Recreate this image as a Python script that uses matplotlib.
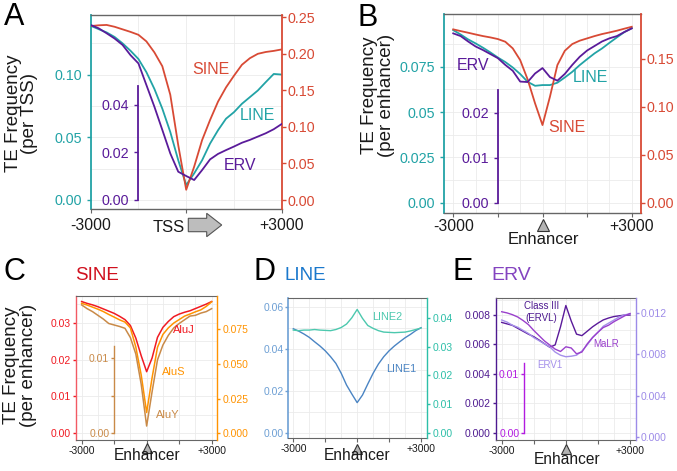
import numpy as np
import matplotlib.pyplot as plt
from matplotlib.patches import FancyArrow

plt.rcParams['font.family'] = ['Liberation Sans', 'DejaVu Sans']

# distance from the TSS / enhancer centre (bp)
pos = [-3000, -2750, -2500, -2250, -2000, -1750, -1500, -1250, -1000, -750, -500, -250,
       0, 250, 500, 750, 1000, 1250, 1500, 1750, 2000, 2250, 2500, 2750, 3000]

# A  (per TSS)
tss_sine = [0.238, 0.239, 0.2395, 0.237, 0.2335, 0.230, 0.226, 0.217, 0.202, 0.183, 0.144, 0.075,
            0.014, 0.0456, 0.082, 0.1095, 0.1346, 0.154, 0.170, 0.185, 0.194, 0.200, 0.2025, 0.204, 0.206]
tss_line = [0.1389, 0.1362, 0.1336, 0.130, 0.1249, 0.119, 0.1124, 0.1019, 0.0886, 0.0728, 0.0542, 0.0317,
            0.0119, 0.0212, 0.0317, 0.045, 0.0556, 0.0648, 0.070, 0.0767, 0.082, 0.0873, 0.094, 0.1005, 0.100]
tss_erv = [0.0737, 0.0723, 0.0702, 0.068, 0.0653, 0.061, 0.0575, 0.0484, 0.0393, 0.0295, 0.0196, 0.0119,
           0.0101, 0.0084, 0.0126, 0.0171, 0.0194, 0.021, 0.0225, 0.0241, 0.0253, 0.0267, 0.0281, 0.0298, 0.032]

# B  (per enhancer)
enh_sine = [0.1806, 0.1788, 0.1771, 0.1753, 0.1736, 0.1722, 0.1705, 0.1677, 0.1608, 0.1486, 0.1285, 0.1035,
            0.0809, 0.1104, 0.1434, 0.1583, 0.1653, 0.1688, 0.1712, 0.1736, 0.1757, 0.1774, 0.1792, 0.1813, 0.1833]
enh_line = [0.0952, 0.0928, 0.0901, 0.0879, 0.0855, 0.0829, 0.0801, 0.0776, 0.0746, 0.071, 0.0667, 0.0645,
            0.0649, 0.0649, 0.0662, 0.0691, 0.0722, 0.0759, 0.0792, 0.0824, 0.0851, 0.0882, 0.0912, 0.0941, 0.0963]
enh_erv = [0.0376, 0.037, 0.0358, 0.0347, 0.0339, 0.033, 0.0321, 0.0306, 0.0293, 0.0269, 0.0268, 0.0287,
           0.0299, 0.0279, 0.0271, 0.0286, 0.0306, 0.0324, 0.0338, 0.0348, 0.0358, 0.0365, 0.037, 0.0379, 0.0387]

# C  SINE subfamilies
aluj = [0.0357, 0.0352, 0.0348, 0.0343, 0.0337, 0.0331, 0.0325, 0.0317, 0.0308, 0.0292, 0.0258, 0.0210,
        0.0167, 0.0204, 0.0260, 0.0287, 0.0303, 0.0316, 0.0323, 0.0328, 0.0332, 0.0338, 0.0344, 0.0350, 0.0357]
alus = [0.0937, 0.0925, 0.091, 0.0895, 0.0878, 0.0857, 0.0838, 0.0818, 0.0802, 0.0760, 0.0622, 0.0420,
        0.0150, 0.040, 0.0620, 0.0713, 0.0760, 0.0795, 0.0820, 0.0845, 0.0860, 0.0876, 0.0890, 0.0915, 0.0948]
aluy = [0.0172, 0.0167, 0.0163, 0.0158, 0.0153, 0.0147, 0.0145, 0.0143, 0.01405, 0.0128, 0.0106, 0.0065,
        0.0009, 0.0055, 0.0098, 0.0118, 0.0131, 0.0141, 0.0147, 0.0152, 0.0157, 0.0158, 0.0161, 0.0163, 0.0167]

# D  LINE subfamilies
line1 = [0.0495, 0.0484, 0.047, 0.0454, 0.0433, 0.0413, 0.039, 0.0362, 0.033, 0.0283, 0.0227, 0.0184,
         0.0143, 0.0179, 0.0232, 0.0283, 0.0327, 0.0362, 0.039, 0.0413, 0.0433, 0.0452, 0.0468, 0.0486, 0.05]
line2 = [0.0358, 0.0356, 0.0358, 0.0358, 0.036, 0.0358, 0.0357, 0.0356, 0.036, 0.0367, 0.0379, 0.0401,
         0.043, 0.0399, 0.0374, 0.0364, 0.0356, 0.0351, 0.035, 0.0349, 0.035, 0.0351, 0.0355, 0.036, 0.0365]

# E  ERV subfamilies
class3 = [0.0075, 0.0074, 0.0073, 0.0071, 0.0069, 0.0067, 0.00653, 0.0063, 0.00605, 0.00581, 0.00597, 0.0072,
          0.00865, 0.0076, 0.0067, 0.0066, 0.0069, 0.0072, 0.00745, 0.00767, 0.0078, 0.0079, 0.00795, 0.008, 0.008]
malr = [0.0207, 0.0205, 0.0202, 0.0198, 0.0192, 0.0185, 0.0175, 0.0166, 0.0157, 0.0150, 0.0143, 0.0139,
        0.0147, 0.0145, 0.0135, 0.0138, 0.0152, 0.0163, 0.0172, 0.0180, 0.0184, 0.0190, 0.0195, 0.0200, 0.0204]
erv1 = [0.0113, 0.0111, 0.0108, 0.0106, 0.0103, 0.0100, 0.0096, 0.0093, 0.0090, 0.0087, 0.0082, 0.0079,
        0.00775, 0.0078, 0.0079, 0.0083, 0.0089, 0.0096, 0.0101, 0.0107, 0.0110, 0.0113, 0.0116, 0.0118, 0.0119]

W, H = 677, 471
fig = plt.figure(figsize=(W / 100, H / 100), dpi=100)

def fx(px):
    return px / W

def fy(py):
    return 1 - py / H

FRAME = '#666666'
GRID = '#ebebeb'
TEAL, RED, PURP = '#22A3A6', '#D84A35', '#5A1B9A'


def host(l, t, r, b, xlim, major, minor, xlabels, xsize, xpad, fr_lw):
    ax = fig.add_axes([l / W, 1 - b / H, (r - l) / W, (b - t) / H])
    ax.set_xlim(*xlim)
    ax.set_xticks(major)
    ax.set_xticks(minor, minor=True)
    ax.set_xticklabels(xlabels)
    ax.tick_params(axis='x', which='major', colors=FRAME, labelcolor='#1a1a1a',
                   labelsize=xsize, length=3, width=0.8, pad=xpad)
    ax.tick_params(which='minor', length=0)
    ax.grid(True, which='both', color=GRID, lw=0.6)
    ax.set_axisbelow(True)
    for s in ('top', 'bottom'):
        ax.spines[s].set_color(FRAME)
        ax.spines[s].set_linewidth(fr_lw)
    ax.spines['right'].set_visible(False)
    return ax


def left_axis(ax, color, ylim, ticks, labels, minor, size, pad, lw, tl=3):
    ax.set_ylim(*ylim)
    ax.set_yticks(ticks)
    ax.set_yticklabels(labels)
    ax.set_yticks(minor, minor=True)
    ax.tick_params(axis='y', which='major', colors=color, labelsize=size, length=tl, width=1, pad=pad)
    ax.spines['left'].set_color(color)
    ax.spines['left'].set_linewidth(lw)


def right_axis(ax, color, ylim, ticks, labels, size, pad, lw, tl=3):
    a2 = ax.twinx()
    a2.set_ylim(*ylim)
    a2.set_yticks(ticks)
    a2.set_yticklabels(labels)
    a2.tick_params(axis='y', colors=color, labelsize=size, length=tl, width=1, pad=pad)
    for s in ('left', 'top', 'bottom'):
        a2.spines[s].set_visible(False)
    a2.spines['right'].set_color(color)
    a2.spines['right'].set_linewidth(lw)
    return a2


def inner_axis(ax, color, ylim, ticks, labels, xpos, top, size, pad, lw, tl=3):
    a3 = ax.twinx()
    a3.set_ylim(*ylim)
    a3.yaxis.tick_left()
    for s in ('right', 'top', 'bottom'):
        a3.spines[s].set_visible(False)
    sp = a3.spines['left']
    sp.set_visible(True)
    sp.set_position(('data', xpos))
    sp.set_bounds(0, top)
    sp.set_color(color)
    sp.set_linewidth(lw)
    a3.set_yticks(ticks)
    a3.set_yticklabels(labels)
    a3.tick_params(axis='y', colors=color, labelsize=size, length=tl, width=1, pad=pad)
    return a3


def tri(ax, y, ms):
    ax.plot([0], [y], marker='^', ms=ms, mfc='#b3b3b3', mec='#333333', mew=0.8, ls='none',
            transform=ax.get_xaxis_transform(), clip_on=False)


def label(px, py, s, color, size, **kw):
    fig.text(fx(px), fy(py), s, color=color, fontsize=size, ha='center', va='center', **kw)


xmaj = [-3000, -1500, 0, 1500, 3000]
xmin = [-2250, -750, 750, 2250]
xlab = ['-3000', '', '', '', '+3000']

# ---------------- A
ax = host(90.7, 15, 281.7, 209, (-3000, 3000), [-3000, 0, 3000], [-1500, 1500],
          ['-3000', '', '+3000'], 11.3, 3.5, 1.0)
left_axis(ax, TEAL, (-0.0072, 0.1475), [0, 0.05, 0.10], ['0.00', '0.05', '0.10'],
          [0.025, 0.075, 0.125], 10.3, 3.5, 1.3)
ax.plot(pos, tss_line, color=TEAL, lw=1.3)
a2 = right_axis(ax, RED, (-0.0123, 0.2531), [0, 0.05, 0.10, 0.15, 0.20, 0.25],
                ['0.00', '0.05', '0.10', '0.15', '0.20', '0.25'], 10.3, 1.2, 1.3)
a2.plot(pos, tss_sine, color=RED, lw=1.3)
a3 = inner_axis(ax, PURP, (-0.0038, 0.0779), [0, 0.02, 0.04], ['0.00', '0.02', '0.04'],
                -1500, 0.048, 10.3, 3.5, 1.3)
a3.plot(pos, tss_erv, color=PURP, lw=1.3)
label(211, 69, 'SINE', RED, 11.5)
label(257.5, 116, 'LINE', TEAL, 11.5)
label(240, 166, 'ERV', PURP, 11.5)
label(169, 227, 'TSS', '#1a1a1a', 12)
fig.add_artist(FancyArrow(fx(188.3), fy(225), fx(221.7) - fx(188.3), 0, width=13.4 / H,
                          head_width=23.4 / H, head_length=15 / W, length_includes_head=True,
                          transform=fig.transFigure, fc='#bdbdbd', ec='#555555', lw=0.8))
label(21.5, 113, 'TE Frequency\n(per TSS)', '#1a1a1a', 13.5, rotation=90, linespacing=0.95)
label(14, 17, 'A', 'black', 22)

# ---------------- B
ax = host(444.3, 14, 640.7, 212.7, (-3300, 3300), xmaj, xmin, xlab, 11.3, 1.5, 1.0)
left_axis(ax, TEAL, (-0.0055, 0.1041), [0, 0.025, 0.05, 0.075], ['0.00', '0.025', '0.05', '0.075'],
          [0.0125, 0.0375, 0.0625, 0.0875], 10.3, 3.5, 1.3)
ax.plot(pos, enh_line, color=TEAL, lw=1.3)
a2 = right_axis(ax, RED, (-0.0104, 0.1966), [0, 0.05, 0.10, 0.15], ['0.00', '0.05', '0.10', '0.15'],
                10.3, 1.2, 1.3)
a2.plot(pos, enh_sine, color=RED, lw=1.3)
a3 = inner_axis(ax, PURP, (-0.0022, 0.0419), [0, 0.01, 0.02], ['0.00', '0.01', '0.02'],
                -1500, 0.025, 10.3, 3.5, 1.3)
a3.plot(pos, enh_erv, color=PURP, lw=1.3)
tri(ax, -0.062, 9)
label(473, 66, 'ERV', PURP, 11.5)
label(590, 77.5, 'LINE', TEAL, 11.5)
label(567, 127, 'SINE', RED, 11.5)
label(543, 240, 'Enhancer', '#1a1a1a', 12)
label(378, 95, 'TE Frequency\n(per enhancer)', '#1a1a1a', 13.5, rotation=90, linespacing=0.95)
label(368, 17.5, 'B', 'black', 22)

# ---------------- C
RC, OR, BR = '#F01A22', '#FF9300', '#C98A48'
ax = host(76, 296, 217.3, 440, (-3260, 3260), xmaj, xmin, xlab, 7.5, 1.0, 0.8)
left_axis(ax, RC, (-0.0018, 0.0372), [0, 0.01, 0.02, 0.03], ['0.00', '0.01', '0.02', '0.03'],
          [0.005, 0.015, 0.025, 0.035], 7.5, 1.0, 1.0, tl=2.5)
ax.spines['left'].set_color('#F25A64')
ax.plot(pos, aluj, color=RC, lw=1.1)
a2 = right_axis(ax, OR, (-0.0048, 0.099), [0, 0.025, 0.05, 0.075], ['0.000', '0.025', '0.050', '0.075'],
                7.5, 1.0, 1.0, tl=2.5)
a2.plot(pos, alus, color=OR, lw=1.1)
a3 = inner_axis(ax, BR, (-0.00098, 0.0184), [0, 0.005, 0.01], ['0.00', '', '0.01'],
                -1500, 0.0117, 7.5, 1.0, 1.0, tl=2.5)
a3.plot(pos, aluy, color=BR, lw=1.1)
tri(ax, -0.056, 7)
label(184, 330, 'AluJ', RC, 8)
label(174, 371.7, 'AluS', OR, 8)
label(168, 415, 'AluY', BR, 8)
label(146.7, 456, 'Enhancer', '#1a1a1a', 11.2)
label(97, 276, 'SINE', '#D0101E', 13.5)
label(20, 365.5, 'TE Frequency\n(per enhancer)', '#1a1a1a', 13.5, rotation=90, linespacing=0.95)
label(14, 272.5, 'C', 'black', 22)

# ---------------- D
BL, BL2, TQ, TQ2 = '#6D9FD4', '#4A84C3', '#2DBFA8', '#4CC8AE'
ax = host(288.3, 297.7, 427.3, 438.3, (-3235, 3295), xmaj, xmin, xlab, 7.5, 1.0, 0.8)
left_axis(ax, BL, (-0.0027, 0.0643), [0, 0.02, 0.04, 0.06], ['0.00', '0.02', '0.04', '0.06'],
          [0.01, 0.03, 0.05], 7.5, 1.0, 1.2, tl=2.5)
ax.plot(pos, line1, color=BL2, lw=1.0)
a2 = right_axis(ax, TQ, (-0.00195, 0.0471), [0, 0.01, 0.02, 0.03, 0.04],
                ['0.00', '0.01', '0.02', '0.03', '0.04'], 7.5, 1.0, 1.0, tl=2.5)
a2.plot(pos, line2, color=TQ2, lw=1.0)
tri(ax, -0.073, 7)
label(386.7, 317.3, 'LINE2', TQ2, 7.8)
label(401, 369, 'LINE1', BL2, 7.8)
label(356.7, 456, 'Enhancer', '#1a1a1a', 11.2)
label(305, 276, 'LINE', '#1A78CC', 13.5)
label(264.7, 271.7, 'D', 'black', 22)

# ---------------- E
DP, LV, MG, ML = '#4E1A90', '#9D8BE8', '#B21BE0', '#9A40CC'
ax = host(495.7, 298.3, 635.7, 440, (-3280, 3266), xmaj, xmin, xlab, 7.5, 1.0, 0.8)
left_axis(ax, DP, (-0.0005, 0.00914), [0, 0.002, 0.004, 0.006, 0.008],
          ['0.000', '0.002', '0.004', '0.006', '0.008'], [0.001, 0.003, 0.005, 0.007, 0.009],
          7.5, 1.0, 1.0, tl=2.5)
ax.plot(pos, class3, color='#5A1A9A', lw=1.0)
a2 = right_axis(ax, LV, (-0.0003, 0.0134), [0, 0.004, 0.008, 0.012], ['0.000', '0.004', '0.008', '0.012'],
                7.5, 1.0, 1.0, tl=2.5)
a2.plot(pos, erv1, color='#A590EA', lw=1.0)
a3 = inner_axis(ax, MG, (-0.00125, 0.023), [0, 0.01], ['0.00', '0.01'],
                -1950, 0.0119, 7.5, 1.0, 1.0, tl=2.5)
a3.plot(pos, malr, color=ML, lw=1.0)
tri(ax, -0.06, 7)
label(541.7, 306, 'Class III', DP, 7)
label(541.7, 318.3, '(ERVL)', DP, 7)
label(606, 344, 'MaLR', ML, 7)
label(550, 365, 'ERV1', '#A590EA', 7)
label(566.7, 459, 'Enhancer', '#1a1a1a', 11.2)
label(511.7, 275.5, 'ERV', '#8444C0', 14)
label(463, 272, 'E', 'black', 22)

fig.savefig('out.png', dpi=100)
